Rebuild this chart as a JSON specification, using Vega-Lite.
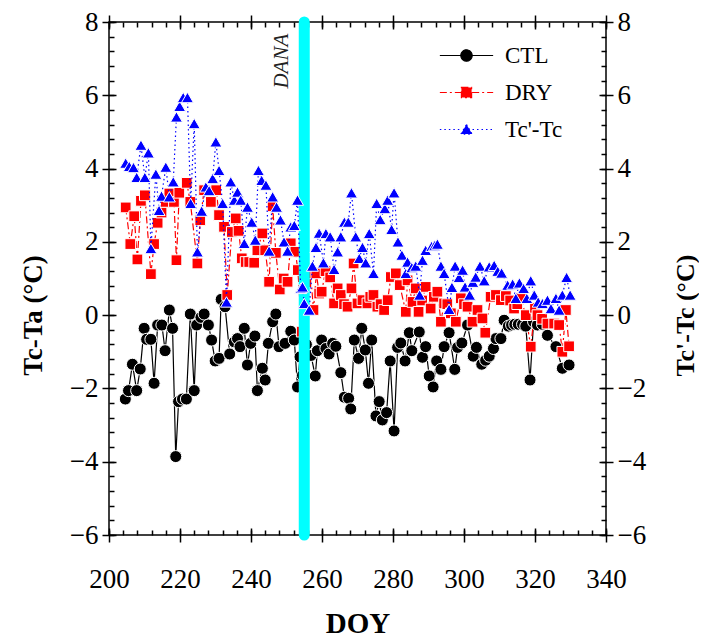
{
  "$schema": "https://vega.github.io/schema/vega-lite/v6.json",
  "width": 497,
  "height": 513,
  "padding": {"left": 19, "top": 8, "right": 0, "bottom": 0},
  "background": "white",
  "config": {
    "view": {"stroke": "black", "strokeWidth": 1.5},
    "axis": {"grid": false, "domain": false, "tickColor": "black", "tickWidth": 1.5, "labelColor": "black", "labelFont": "Liberation Serif", "labelFontSize": 27, "titleFont": "Liberation Serif", "titleColor": "black", "labelFlush": false, "labelOverlap": false}
  },
  "datasets": {
    "obs": [
      {"s":"CTL","doy":204.6,"v":-2.29},{"s":"CTL","doy":205.5,"v":-2.06},{"s":"CTL","doy":206.6,"v":-1.34},{"s":"CTL","doy":207.8,"v":-2.06},{"s":"CTL","doy":208.8,"v":-1.47},{"s":"CTL","doy":209.9,"v":-0.36},{"s":"CTL","doy":210.6,"v":-0.66},{"s":"CTL","doy":211.8,"v":-0.66},{"s":"CTL","doy":212.7,"v":-1.86},{"s":"CTL","doy":213.7,"v":-0.27},{"s":"CTL","doy":214.9,"v":-0.27},{"s":"CTL","doy":215.8,"v":-0.97},{"s":"CTL","doy":217.0,"v":0.14},{"s":"CTL","doy":217.9,"v":-0.36},{"s":"CTL","doy":218.8,"v":-3.86},{"s":"CTL","doy":219.6,"v":-2.36},{"s":"CTL","doy":220.7,"v":-2.29},{"s":"CTL","doy":221.8,"v":-2.29},{"s":"CTL","doy":222.9,"v":0.03},{"s":"CTL","doy":224.0,"v":-2.06},{"s":"CTL","doy":224.7,"v":-0.27},{"s":"CTL","doy":225.9,"v":-0.06},{"s":"CTL","doy":226.8,"v":0.03},{"s":"CTL","doy":228.0,"v":-0.27},{"s":"CTL","doy":228.9,"v":-0.68},{"s":"CTL","doy":229.9,"v":-1.25},{"s":"CTL","doy":231.0,"v":-1.18},{"s":"CTL","doy":231.6,"v":0.43},{"s":"CTL","doy":232.7,"v":0.23},{"s":"CTL","doy":234.0,"v":-1.06},{"s":"CTL","doy":235.3,"v":-0.73},{"s":"CTL","doy":236.2,"v":-0.64},{"s":"CTL","doy":236.9,"v":-0.86},{"s":"CTL","doy":238.1,"v":-0.36},{"s":"CTL","doy":239.0,"v":-1.36},{"s":"CTL","doy":239.9,"v":-0.77},{"s":"CTL","doy":241.1,"v":-0.57},{"s":"CTL","doy":241.8,"v":-2.06},{"s":"CTL","doy":243.2,"v":-1.45},{"s":"CTL","doy":244.0,"v":-1.77},{"s":"CTL","doy":244.9,"v":-0.77},{"s":"CTL","doy":246.1,"v":-0.18},{"s":"CTL","doy":247.0,"v":0.03},{"s":"CTL","doy":247.9,"v":-0.86},{"s":"CTL","doy":249.6,"v":-0.77},{"s":"CTL","doy":251.2,"v":-0.44},{"s":"CTL","doy":252.2,"v":-0.68},{"s":"CTL","doy":253.1,"v":-1.96},{"s":"CTL","doy":253.8,"v":-1.14},{"s":"CTL","doy":254.5,"v":-1.64},{"s":"CTL","doy":255.6,"v":-0.8},{"s":"CTL","doy":256.9,"v":-1.1},{"s":"CTL","doy":258.1,"v":-1.66},{"s":"CTL","doy":258.7,"v":-0.97},{"s":"CTL","doy":259.9,"v":-0.68},{"s":"CTL","doy":261.1,"v":-0.91},{"s":"CTL","doy":262.0,"v":-1.06},{"s":"CTL","doy":263.0,"v":-0.77},{"s":"CTL","doy":263.9,"v":-0.85},{"s":"CTL","doy":265.3,"v":-1.57},{"s":"CTL","doy":266.3,"v":-2.24},{"s":"CTL","doy":267.5,"v":-2.27},{"s":"CTL","doy":268.1,"v":-2.56},{"s":"CTL","doy":269.1,"v":-0.68},{"s":"CTL","doy":270.3,"v":-1.18},{"s":"CTL","doy":271.2,"v":-0.36},{"s":"CTL","doy":272.2,"v":-0.95},{"s":"CTL","doy":273.1,"v":-1.86},{"s":"CTL","doy":274.0,"v":-0.68},{"s":"CTL","doy":275.2,"v":-2.75},{"s":"CTL","doy":276.1,"v":-2.36},{"s":"CTL","doy":277.0,"v":-2.86},{"s":"CTL","doy":278.2,"v":-2.66},{"s":"CTL","doy":279.2,"v":-1.25},{"s":"CTL","doy":280.3,"v":-3.16},{"s":"CTL","doy":281.3,"v":-0.88},{"s":"CTL","doy":282.2,"v":-0.76},{"s":"CTL","doy":283.4,"v":-1.25},{"s":"CTL","doy":284.6,"v":-0.48},{"s":"CTL","doy":285.3,"v":-0.97},{"s":"CTL","doy":287.4,"v":-0.46},{"s":"CTL","doy":288.3,"v":-1.15},{"s":"CTL","doy":289.2,"v":-0.86},{"s":"CTL","doy":290.2,"v":-1.66},{"s":"CTL","doy":291.3,"v":-1.96},{"s":"CTL","doy":292.3,"v":-1.25},{"s":"CTL","doy":293.5,"v":-1.48},{"s":"CTL","doy":294.4,"v":-0.86},{"s":"CTL","doy":295.8,"v":-0.48},{"s":"CTL","doy":297.4,"v":-1.48},{"s":"CTL","doy":298.2,"v":-0.88},{"s":"CTL","doy":299.4,"v":-0.76},{"s":"CTL","doy":301.0,"v":-0.27},{"s":"CTL","doy":302.6,"v":-1.12},{"s":"CTL","doy":303.5,"v":-0.88},{"s":"CTL","doy":305.0,"v":-1.34},{"s":"CTL","doy":306.1,"v":-1.23},{"s":"CTL","doy":307.1,"v":-1.12},{"s":"CTL","doy":308.3,"v":-0.91},{"s":"CTL","doy":309.0,"v":-0.64},{"s":"CTL","doy":310.4,"v":-0.64},{"s":"CTL","doy":311.3,"v":-0.14},{"s":"CTL","doy":312.5,"v":-0.3},{"s":"CTL","doy":313.4,"v":-0.27},{"s":"CTL","doy":314.3,"v":-0.25},{"s":"CTL","doy":315.3,"v":-0.25},{"s":"CTL","doy":316.5,"v":-0.25},{"s":"CTL","doy":317.4,"v":-0.3},{"s":"CTL","doy":318.6,"v":-1.77},{"s":"CTL","doy":319.6,"v":-0.18},{"s":"CTL","doy":320.7,"v":-0.27},{"s":"CTL","doy":322.1,"v":-0.25},{"s":"CTL","doy":323.5,"v":-0.55},{"s":"CTL","doy":325.9,"v":-0.86},{"s":"CTL","doy":327.7,"v":-1.45},{"s":"CTL","doy":329.6,"v":-1.36},
      {"s":"DRY","doy":204.7,"v":2.94},{"s":"DRY","doy":206.0,"v":1.94},{"s":"DRY","doy":207.1,"v":2.7},{"s":"DRY","doy":208.0,"v":1.52},{"s":"DRY","doy":209.0,"v":3.12},{"s":"DRY","doy":210.1,"v":3.27},{"s":"DRY","doy":211.8,"v":1.12},{"s":"DRY","doy":212.7,"v":1.94},{"s":"DRY","doy":213.7,"v":2.52},{"s":"DRY","doy":214.8,"v":2.8},{"s":"DRY","doy":216.0,"v":3.09},{"s":"DRY","doy":217.0,"v":3.32},{"s":"DRY","doy":218.3,"v":3.09},{"s":"DRY","doy":219.0,"v":1.5},{"s":"DRY","doy":219.8,"v":3.34},{"s":"DRY","doy":221.9,"v":3.61},{"s":"DRY","doy":222.9,"v":3.09},{"s":"DRY","doy":224.9,"v":1.41},{"s":"DRY","doy":225.7,"v":2.59},{"s":"DRY","doy":226.8,"v":3.41},{"s":"DRY","doy":228.7,"v":3.09},{"s":"DRY","doy":230.2,"v":3.41},{"s":"DRY","doy":231.0,"v":2.73},{"s":"DRY","doy":232.4,"v":2.41},{"s":"DRY","doy":233.3,"v":0.55},{"s":"DRY","doy":234.6,"v":2.27},{"s":"DRY","doy":235.7,"v":2.64},{"s":"DRY","doy":236.5,"v":2.3},{"s":"DRY","doy":237.4,"v":1.55},{"s":"DRY","doy":238.5,"v":1.45},{"s":"DRY","doy":239.5,"v":1.45},{"s":"DRY","doy":240.9,"v":1.43},{"s":"DRY","doy":241.8,"v":1.77},{"s":"DRY","doy":243.2,"v":2.23},{"s":"DRY","doy":244.0,"v":1.77},{"s":"DRY","doy":245.1,"v":0.91},{"s":"DRY","doy":246.1,"v":2.97},{"s":"DRY","doy":247.0,"v":1.7},{"s":"DRY","doy":248.1,"v":0.7},{"s":"DRY","doy":249.2,"v":1.0},{"s":"DRY","doy":250.3,"v":0.91},{"s":"DRY","doy":251.2,"v":1.96},{"s":"DRY","doy":252.5,"v":1.73},{"s":"DRY","doy":253.2,"v":1.23},{"s":"DRY","doy":254.3,"v":-0.45},{"s":"DRY","doy":255.6,"v":0.9},{"s":"DRY","doy":256.8,"v":1.14},{"s":"DRY","doy":257.6,"v":0.14},{"s":"DRY","doy":258.4,"v":1.14},{"s":"DRY","doy":259.2,"v":0.59},{"s":"DRY","doy":259.9,"v":0.64},{"s":"DRY","doy":261.0,"v":1.2},{"s":"DRY","doy":262.3,"v":1.03},{"s":"DRY","doy":263.4,"v":0.32},{"s":"DRY","doy":264.4,"v":0.73},{"s":"DRY","doy":265.3,"v":0.55},{"s":"DRY","doy":266.2,"v":0.3},{"s":"DRY","doy":267.2,"v":0.23},{"s":"DRY","doy":268.3,"v":0.73},{"s":"DRY","doy":268.9,"v":1.41},{"s":"DRY","doy":270.0,"v":0.32},{"s":"DRY","doy":271.4,"v":0.41},{"s":"DRY","doy":272.8,"v":0.32},{"s":"DRY","doy":273.6,"v":0.5},{"s":"DRY","doy":274.5,"v":0.55},{"s":"DRY","doy":275.6,"v":0.23},{"s":"DRY","doy":276.5,"v":0.3},{"s":"DRY","doy":277.5,"v":0.14},{"s":"DRY","doy":278.5,"v":0.41},{"s":"DRY","doy":279.4,"v":1.04},{"s":"DRY","doy":280.8,"v":1.14},{"s":"DRY","doy":281.9,"v":0.82},{"s":"DRY","doy":283.6,"v":0.09},{"s":"DRY","doy":284.1,"v":0.95},{"s":"DRY","doy":285.5,"v":0.36},{"s":"DRY","doy":286.4,"v":0.73},{"s":"DRY","doy":287.2,"v":0.09},{"s":"DRY","doy":288.2,"v":0.4},{"s":"DRY","doy":289.2,"v":0.77},{"s":"DRY","doy":290.6,"v":0.18},{"s":"DRY","doy":291.5,"v":0.5},{"s":"DRY","doy":292.5,"v":0.64},{"s":"DRY","doy":293.5,"v":-0.18},{"s":"DRY","doy":294.4,"v":0.32},{"s":"DRY","doy":295.3,"v":0.3},{"s":"DRY","doy":296.3,"v":0.05},{"s":"DRY","doy":297.7,"v":-0.18},{"s":"DRY","doy":299.1,"v":0.46},{"s":"DRY","doy":300.0,"v":0.3},{"s":"DRY","doy":301.0,"v":0.23},{"s":"DRY","doy":302.4,"v":-0.18},{"s":"DRY","doy":303.8,"v":0.14},{"s":"DRY","doy":305.2,"v":-0.09},{"s":"DRY","doy":306.0,"v":-0.48},{"s":"DRY","doy":307.5,"v":0.5},{"s":"DRY","doy":309.0,"v":0.55},{"s":"DRY","doy":310.4,"v":0.41},{"s":"DRY","doy":311.8,"v":0.52},{"s":"DRY","doy":313.0,"v":0.4},{"s":"DRY","doy":314.1,"v":0.18},{"s":"DRY","doy":315.0,"v":0.3},{"s":"DRY","doy":316.0,"v":0.46},{"s":"DRY","doy":317.4,"v":0.0},{"s":"DRY","doy":318.8,"v":-0.86},{"s":"DRY","doy":320.0,"v":0.2},{"s":"DRY","doy":320.7,"v":0.0},{"s":"DRY","doy":322.0,"v":-0.1},{"s":"DRY","doy":323.5,"v":-0.23},{"s":"DRY","doy":325.4,"v":-0.23},{"s":"DRY","doy":326.8,"v":-0.27},{"s":"DRY","doy":327.7,"v":-1.0},{"s":"DRY","doy":328.7,"v":0.14},{"s":"DRY","doy":329.6,"v":-0.85},
      {"s":"Tc'-Tc","doy":204.7,"v":4.15},{"s":"Tc'-Tc","doy":205.7,"v":4.06},{"s":"Tc'-Tc","doy":206.9,"v":4.03},{"s":"Tc'-Tc","doy":207.8,"v":3.76},{"s":"Tc'-Tc","doy":209.0,"v":4.64},{"s":"Tc'-Tc","doy":210.1,"v":3.76},{"s":"Tc'-Tc","doy":211.1,"v":4.43},{"s":"Tc'-Tc","doy":211.8,"v":1.82},{"s":"Tc'-Tc","doy":213.2,"v":3.85},{"s":"Tc'-Tc","doy":214.1,"v":2.86},{"s":"Tc'-Tc","doy":214.8,"v":3.25},{"s":"Tc'-Tc","doy":216.0,"v":4.04},{"s":"Tc'-Tc","doy":217.0,"v":3.23},{"s":"Tc'-Tc","doy":218.1,"v":3.64},{"s":"Tc'-Tc","doy":219.0,"v":5.41},{"s":"Tc'-Tc","doy":219.9,"v":5.7},{"s":"Tc'-Tc","doy":220.9,"v":5.94},{"s":"Tc'-Tc","doy":222.1,"v":5.94},{"s":"Tc'-Tc","doy":223.0,"v":3.05},{"s":"Tc'-Tc","doy":224.0,"v":5.23},{"s":"Tc'-Tc","doy":224.9,"v":1.73},{"s":"Tc'-Tc","doy":226.1,"v":2.84},{"s":"Tc'-Tc","doy":227.3,"v":3.5},{"s":"Tc'-Tc","doy":228.2,"v":3.4},{"s":"Tc'-Tc","doy":229.2,"v":3.73},{"s":"Tc'-Tc","doy":230.1,"v":4.73},{"s":"Tc'-Tc","doy":231.0,"v":3.95},{"s":"Tc'-Tc","doy":232.0,"v":3.05},{"s":"Tc'-Tc","doy":233.1,"v":0.36},{"s":"Tc'-Tc","doy":234.3,"v":3.64},{"s":"Tc'-Tc","doy":235.3,"v":3.14},{"s":"Tc'-Tc","doy":236.2,"v":3.36},{"s":"Tc'-Tc","doy":237.1,"v":3.14},{"s":"Tc'-Tc","doy":238.1,"v":1.96},{"s":"Tc'-Tc","doy":239.0,"v":2.95},{"s":"Tc'-Tc","doy":240.2,"v":2.54},{"s":"Tc'-Tc","doy":241.2,"v":2.05},{"s":"Tc'-Tc","doy":242.1,"v":3.95},{"s":"Tc'-Tc","doy":243.0,"v":3.68},{"s":"Tc'-Tc","doy":244.2,"v":3.55},{"s":"Tc'-Tc","doy":245.1,"v":1.75},{"s":"Tc'-Tc","doy":246.1,"v":3.23},{"s":"Tc'-Tc","doy":247.2,"v":2.95},{"s":"Tc'-Tc","doy":248.3,"v":2.6},{"s":"Tc'-Tc","doy":249.3,"v":2.0},{"s":"Tc'-Tc","doy":250.3,"v":1.75},{"s":"Tc'-Tc","doy":251.2,"v":2.41},{"s":"Tc'-Tc","doy":252.2,"v":2.45},{"s":"Tc'-Tc","doy":253.1,"v":3.14},{"s":"Tc'-Tc","doy":254.0,"v":0.73},{"s":"Tc'-Tc","doy":254.5,"v":0.77},{"s":"Tc'-Tc","doy":255.0,"v":0.32},{"s":"Tc'-Tc","doy":256.4,"v":0.14},{"s":"Tc'-Tc","doy":257.3,"v":1.34},{"s":"Tc'-Tc","doy":258.3,"v":1.85},{"s":"Tc'-Tc","doy":259.2,"v":2.24},{"s":"Tc'-Tc","doy":260.4,"v":1.43},{"s":"Tc'-Tc","doy":261.1,"v":2.23},{"s":"Tc'-Tc","doy":262.3,"v":2.14},{"s":"Tc'-Tc","doy":263.4,"v":1.25},{"s":"Tc'-Tc","doy":264.4,"v":1.73},{"s":"Tc'-Tc","doy":265.3,"v":2.14},{"s":"Tc'-Tc","doy":266.3,"v":2.54},{"s":"Tc'-Tc","doy":267.4,"v":2.54},{"s":"Tc'-Tc","doy":268.3,"v":3.34},{"s":"Tc'-Tc","doy":269.5,"v":2.14},{"s":"Tc'-Tc","doy":270.5,"v":1.55},{"s":"Tc'-Tc","doy":271.4,"v":1.85},{"s":"Tc'-Tc","doy":272.3,"v":1.43},{"s":"Tc'-Tc","doy":273.3,"v":2.23},{"s":"Tc'-Tc","doy":274.5,"v":1.14},{"s":"Tc'-Tc","doy":275.4,"v":3.05},{"s":"Tc'-Tc","doy":276.4,"v":2.61},{"s":"Tc'-Tc","doy":277.7,"v":2.91},{"s":"Tc'-Tc","doy":278.5,"v":3.14},{"s":"Tc'-Tc","doy":279.6,"v":2.34},{"s":"Tc'-Tc","doy":280.3,"v":3.34},{"s":"Tc'-Tc","doy":281.4,"v":2.0},{"s":"Tc'-Tc","doy":282.5,"v":1.64},{"s":"Tc'-Tc","doy":283.6,"v":1.14},{"s":"Tc'-Tc","doy":284.1,"v":1.45},{"s":"Tc'-Tc","doy":285.3,"v":1.3},{"s":"Tc'-Tc","doy":286.4,"v":1.34},{"s":"Tc'-Tc","doy":287.5,"v":0.55},{"s":"Tc'-Tc","doy":288.3,"v":1.5},{"s":"Tc'-Tc","doy":289.2,"v":1.77},{"s":"Tc'-Tc","doy":290.9,"v":1.88},{"s":"Tc'-Tc","doy":291.7,"v":1.9},{"s":"Tc'-Tc","doy":292.5,"v":1.94},{"s":"Tc'-Tc","doy":293.5,"v":1.34},{"s":"Tc'-Tc","doy":294.4,"v":1.14},{"s":"Tc'-Tc","doy":295.8,"v":0.16},{"s":"Tc'-Tc","doy":296.6,"v":0.76},{"s":"Tc'-Tc","doy":297.5,"v":1.34},{"s":"Tc'-Tc","doy":298.6,"v":1.03},{"s":"Tc'-Tc","doy":299.6,"v":1.23},{"s":"Tc'-Tc","doy":300.3,"v":0.77},{"s":"Tc'-Tc","doy":301.6,"v":0.55},{"s":"Tc'-Tc","doy":302.5,"v":0.9},{"s":"Tc'-Tc","doy":303.3,"v":1.04},{"s":"Tc'-Tc","doy":304.5,"v":1.34},{"s":"Tc'-Tc","doy":305.7,"v":0.94},{"s":"Tc'-Tc","doy":307.1,"v":1.32},{"s":"Tc'-Tc","doy":308.5,"v":1.36},{"s":"Tc'-Tc","doy":309.5,"v":1.2},{"s":"Tc'-Tc","doy":310.6,"v":1.15},{"s":"Tc'-Tc","doy":312.3,"v":0.82},{"s":"Tc'-Tc","doy":313.7,"v":0.85},{"s":"Tc'-Tc","doy":314.6,"v":0.46},{"s":"Tc'-Tc","doy":315.6,"v":0.88},{"s":"Tc'-Tc","doy":316.8,"v":0.73},{"s":"Tc'-Tc","doy":317.7,"v":0.46},{"s":"Tc'-Tc","doy":318.8,"v":0.94},{"s":"Tc'-Tc","doy":319.8,"v":0.55},{"s":"Tc'-Tc","doy":320.9,"v":0.36},{"s":"Tc'-Tc","doy":322.1,"v":0.32},{"s":"Tc'-Tc","doy":323.5,"v":0.41},{"s":"Tc'-Tc","doy":324.5,"v":0.18},{"s":"Tc'-Tc","doy":325.9,"v":0.46},{"s":"Tc'-Tc","doy":326.8,"v":0.14},{"s":"Tc'-Tc","doy":327.7,"v":0.55},{"s":"Tc'-Tc","doy":328.9,"v":1.03},{"s":"Tc'-Tc","doy":329.9,"v":0.55}
    ],
    "events": [{"event": "DANA", "doy": 255}]
  },
  "data": {"name": "obs"},
  "layer": [
    {
      "transform": [{"filter": {"field": "s", "oneOf": ["CTL", "DRY"]}}],
      "mark": {"type": "line", "strokeWidth": 1.2},
      "encoding": {
        "x": {"field": "doy", "type": "quantitative", "scale": {"domain": [200, 340], "nice": false, "zero": false},
              "axis": {"orient": "bottom", "values": [200, 220, 240, 260, 280, 300, 320, 340], "tickSize": 14, "offset": -7, "labelPadding": 24, "title": "DOY", "titleFontSize": 29, "titleFontWeight": "bold", "titlePadding": 17}},
        "y": {"field": "v", "type": "quantitative", "scale": {"domain": [-6, 8], "nice": false, "zero": false},
              "axis": {"orient": "left", "values": [-6, -4, -2, 0, 2, 4, 6, 8], "tickSize": 14, "offset": -7, "labelPadding": 4, "title": "Tc-Ta (°C)", "titleFontSize": 27, "titleFontWeight": "bold", "titlePadding": 22, "titleY": 293}},
        "color": {"field": "s", "type": "nominal", "scale": {"domain": ["CTL", "DRY", "Tc'-Tc"], "range": ["#000000", "#ff0000", "#0000ff"]},
                  "legend": {"orient": "none", "legendX": 346, "legendY": 22, "title": null, "padding": 0, "symbolSize": 200, "labelFont": "Liberation Serif", "labelFontSize": 23, "labelColor": "black", "labelOffset": 27, "rowPadding": 13,
                    "encode": {"symbols": {"update": {
                      "shape": {"signal": "datum.value === 'CTL' ? 'M-3.77,0H-0.78M0.78,0H3.77M-0.8,0A0.8,0.8,0,1,1,0.8,0A0.8,0.8,0,1,1,-0.8,0Z' : datum.value === 'DRY' ? 'M-3.77,0H-0.8M0.8,0H3.77M-0.72,-0.72H0.72V0.72H-0.72Z' : 'M-3.77,0H-0.85M0.85,0H3.77M0,-0.7L0.8,0.65H-0.8Z'"},
                      "fill": {"signal": "datum.value === 'CTL' ? '#000000' : datum.value === 'DRY' ? '#ff0000' : '#0000ff'"},
                      "stroke": {"signal": "datum.value === 'CTL' ? '#000000' : datum.value === 'DRY' ? '#ff0000' : '#0000ff'"},
                      "strokeDash": {"signal": "datum.value === 'CTL' ? [1, 0] : datum.value === 'DRY' ? [6, 3] : [1.5, 3]"},
                      "strokeWidth": {"value": 1.2},
                      "opacity": {"value": 1}
                    }}}}},
        "strokeDash": {"field": "s", "type": "nominal", "scale": {"domain": ["CTL", "DRY", "Tc'-Tc"], "range": [[1, 0], [7, 3, 2, 3], [1.5, 3]]}, "legend": null}
      }
    },
    {
      "transform": [{"filter": {"field": "s", "equal": "CTL"}}],
      "mark": {"type": "point", "shape": "circle", "filled": true, "stroke": "white", "strokeWidth": 1, "opacity": 1, "size": 145},
      "encoding": {
        "x": {"field": "doy", "type": "quantitative", "axis": {"orient": "top", "values": [200, 220, 240, 260, 280, 300, 320, 340], "tickSize": 14, "offset": -7, "labels": false, "title": null}},
        "y": {"field": "v", "type": "quantitative", "axis": {"orient": "right", "values": [-6, -4, -2, 0, 2, 4, 6, 8], "tickSize": 14, "offset": -7, "labelPadding": 4, "title": "Tc'-Tc (°C)", "titleFontSize": 26, "titleFontWeight": "bold", "titleAngle": 270, "titleBaseline": "top", "titlePadding": 27, "titleY": 293}},
        "color": {"field": "s", "type": "nominal"}
      }
    },
    {
      "transform": [{"filter": {"field": "s", "equal": "DRY"}}],
      "mark": {"type": "point", "shape": "square", "filled": true, "stroke": "white", "strokeWidth": 1, "opacity": 1, "size": 115},
      "encoding": {
        "x": {"field": "doy", "type": "quantitative", "axis": {"orient": "bottom", "values": [200,204,208,212,216,220,224,228,232,236,240,244,248,252,256,260,264,268,272,276,280,284,288,292,296,300,304,308,312,316,320,324,328,332,336,340], "tickSize": 5, "offset": -5, "labels": false, "title": null}},
        "y": {"field": "v", "type": "quantitative", "axis": {"orient": "left", "values": [-6,-5.6,-5.2,-4.8,-4.4,-4,-3.6,-3.2,-2.8,-2.4,-2,-1.6,-1.2,-0.8,-0.4,0,0.4,0.8,1.2,1.6,2,2.4,2.8,3.2,3.6,4,4.4,4.8,5.2,5.6,6,6.4,6.8,7.2,7.6,8], "tickSize": 5, "offset": -5, "labels": false, "title": null}},
        "color": {"field": "s", "type": "nominal"}
      }
    },
    {
      "data": {"name": "events"},
      "mark": {"type": "rule", "color": "#00ffff", "strokeWidth": 11, "strokeCap": "round"},
      "encoding": {
        "x": {"field": "doy", "type": "quantitative", "axis": {"orient": "top", "values": [200,204,208,212,216,220,224,228,232,236,240,244,248,252,256,260,264,268,272,276,280,284,288,292,296,300,304,308,312,316,320,324,328,332,336,340], "tickSize": 5, "offset": -5, "labels": false, "title": null}},
        "y": {"datum": 8, "type": "quantitative", "axis": {"orient": "right", "values": [-6,-5.6,-5.2,-4.8,-4.4,-4,-3.6,-3.2,-2.8,-2.4,-2,-1.6,-1.2,-0.8,-0.4,0,0.4,0.8,1.2,1.6,2,2.4,2.8,3.2,3.6,4,4.4,4.8,5.2,5.6,6,6.4,6.8,7.2,7.6,8], "tickSize": 5, "offset": -5, "labels": false, "title": null}},
        "y2": {"datum": -6}
      }
    },
    {
      "transform": [{"filter": {"field": "s", "equal": "Tc'-Tc"}}],
      "mark": {"type": "line", "strokeWidth": 1.2},
      "encoding": {
        "x": {"field": "doy", "type": "quantitative", "axis": null},
        "y": {"field": "v", "type": "quantitative", "axis": null},
        "color": {"field": "s", "type": "nominal"},
        "strokeDash": {"field": "s", "type": "nominal", "legend": null}
      }
    },
    {
      "transform": [{"filter": {"field": "s", "equal": "Tc'-Tc"}}],
      "mark": {"type": "point", "shape": "triangle-up", "filled": true, "stroke": "white", "strokeWidth": 1, "opacity": 1, "size": 145},
      "encoding": {
        "x": {"field": "doy", "type": "quantitative", "axis": null},
        "y": {"field": "v", "type": "quantitative", "axis": null},
        "color": {"field": "s", "type": "nominal"}
      }
    },
    {
      "data": {"name": "events"},
      "mark": {"type": "text", "font": "Liberation Serif", "fontStyle": "italic", "fontSize": 21, "angle": 270, "align": "center", "baseline": "middle", "color": "#222222"},
      "encoding": {
        "x": {"datum": 248.6, "type": "quantitative", "axis": null},
        "y": {"datum": 6.93, "type": "quantitative", "axis": null},
        "text": {"field": "event"}
      }
    }
  ],
  "resolve": {"axis": {"x": "independent", "y": "independent"}}
}
